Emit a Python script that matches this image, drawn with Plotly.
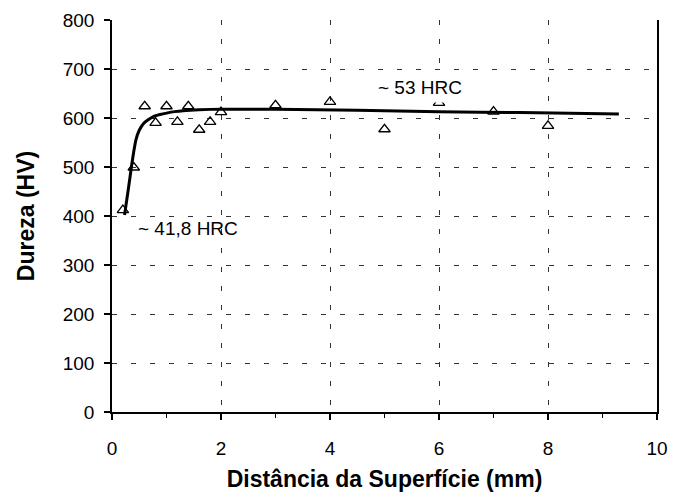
import plotly.graph_objects as go

# measured points (distance mm, hardness HV)
dist = [0.2, 0.4, 0.6, 0.8, 1.0, 1.2, 1.4, 1.6, 1.8, 2.0, 3.0, 4.0, 5.0, 6.0, 7.0, 8.0]
hv = [412, 499, 624, 590, 624, 592, 624, 576, 592, 612, 626, 633, 577, 631, 613, 584]

# fitted trend curve
curve_x = [0.23, 0.30, 0.36, 0.40, 0.44, 0.50, 0.58, 0.67, 0.76, 0.88, 1.0, 1.15, 1.3, 1.6, 2.0, 3.0, 4.5, 6.0, 7.5, 9.3]
curve_y = [402, 455, 503, 532, 556, 575, 589, 597, 603, 607, 610, 613, 615, 617, 618, 618, 616, 613, 611, 608]

x_ticks = [0, 2, 4, 6, 8, 10]
y_ticks = [0, 100, 200, 300, 400, 500, 600, 700, 800]

FONT = "Liberation Sans, Arial, sans-serif"

fig = go.Figure()
fig.add_trace(go.Scatter(x=dist, y=hv, mode="markers",
                         marker=dict(symbol="triangle-up-open", size=10, color="black",
                                     line=dict(width=1.3, color="black")),
                         showlegend=False, cliponaxis=False))
fig.add_trace(go.Scatter(x=curve_x, y=curve_y, mode="lines",
                         line=dict(color="black", width=3, shape="spline", smoothing=0.5),
                         showlegend=False))

fig.add_annotation(x=5.66, y=663, text="~ 53 HRC", showarrow=False,
                   font=dict(family=FONT, size=19, color="black"),
                   bgcolor="white", borderpad=4)
fig.add_annotation(x=1.40, y=375, text="~ 41,8 HRC", showarrow=False,
                   font=dict(family=FONT, size=19, color="black"))

grid_dash = "5px,14px"
fig.update_xaxes(range=[0, 10], tickvals=x_ticks, ticktext=[str(v) for v in x_ticks],
                 showline=True, linecolor="black", linewidth=1.5,
                 ticks="outside", ticklen=6, tickcolor="black", tickwidth=1.5,
                 minor=dict(dtick=1, ticks="outside", ticklen=4, tickcolor="black", tickwidth=1, showgrid=False),
                 showgrid=True, gridcolor="#333333", gridwidth=1, griddash=grid_dash,
                 zeroline=False, ticklabelstandoff=12, automargin=False,
                 tickfont=dict(family=FONT, size=19, color="black"),
                 title=dict(text="<b>Distância da Superfície (mm)</b>", standoff=22,
                            font=dict(family=FONT, size=23, color="black")))
fig.update_yaxes(range=[0, 800], tickvals=y_ticks, ticktext=[str(v) for v in y_ticks],
                 showline=True, linecolor="black", linewidth=1.5, mirror=True,
                 ticks="outside", ticklen=6, tickcolor="black", tickwidth=1.5,
                 showgrid=True, gridcolor="#333333", gridwidth=1, griddash=grid_dash,
                 zeroline=False, ticklabelstandoff=6, automargin=False,
                 tickfont=dict(family=FONT, size=19, color="black"),
                 title=dict(text="<b>Dureza (HV)</b>", standoff=22,
                            font=dict(family=FONT, size=23, color="black")))

fig.update_layout(width=677, height=492, margin=dict(l=112, r=20, t=20, b=80),
                  plot_bgcolor="white", paper_bgcolor="white")

fig.write_html("out.html")
